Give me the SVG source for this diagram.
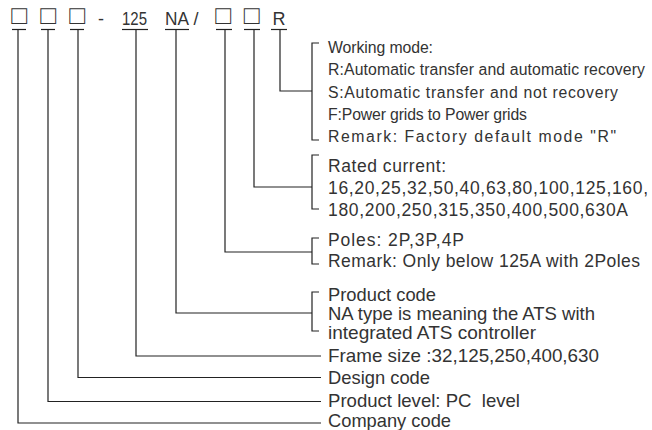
<svg xmlns="http://www.w3.org/2000/svg" width="652" height="430" viewBox="0 0 652 430">
<style>
.t{font-family:"Liberation Sans",Arial,sans-serif;fill:#333}
.a{font-size:15.8px}
.b{font-size:17.5px}
.c{font-size:18.5px}
.code{font-family:"Liberation Sans",Arial,sans-serif;font-size:18px;fill:#333}
.box{font-family:"Liberation Sans","DejaVu Sans",sans-serif;font-size:26px;fill:#333}
.ln{fill:none;stroke:#222;stroke-width:1.2}
</style>
<rect width="652" height="430" fill="#fff"/>
<g id="model-code">
  <g id="tok-company"><text class="box" x="19" y="24" text-anchor="middle">□</text><path class="ln" d="M12 29.5H26"/></g>
  <g id="tok-level"><text class="box" x="48" y="24" text-anchor="middle">□</text><path class="ln" d="M41 29.5H55"/></g>
  <g id="tok-design"><text class="box" x="77" y="24" text-anchor="middle">□</text><path class="ln" d="M70 29.5H84"/></g>
  <text class="code" x="101" y="25" text-anchor="middle" font-size="20">-</text>
  <g id="tok-frame"><text class="code" x="122" y="25" textLength="25" lengthAdjust="spacingAndGlyphs">125</text><path class="ln" d="M122 29.5H148"/></g>
  <g id="tok-product"><text class="code" x="165" y="25" textLength="24" lengthAdjust="spacingAndGlyphs">NA</text><path class="ln" d="M165 29.5H189"/></g>
  <text class="code" x="196" y="25" text-anchor="middle">/</text>
  <g id="tok-poles"><text class="box" x="223" y="24" text-anchor="middle">□</text><path class="ln" d="M216 29.5H232"/></g>
  <g id="tok-current"><text class="box" x="251.5" y="24" text-anchor="middle">□</text><path class="ln" d="M244 29.5H260"/></g>
  <g id="tok-mode"><text class="code" x="272.5" y="25">R</text><path class="ln" d="M271 29.5H287"/></g>
</g>
<g id="connectors">
  <path class="ln" d="M280 29.5V91H312"/>
  <path class="ln" d="M254 29.5V187H312"/>
  <path class="ln" d="M225 29.5V252H312"/>
  <path class="ln" d="M176 29.5V313H312"/>
  <path class="ln" d="M136 29.5V356H321"/>
  <path class="ln" d="M78 29.5V377.5H321"/>
  <path class="ln" d="M48 29.5V401.5H321"/>
  <path class="ln" d="M18 29.5V423H321"/>
</g>
<g id="working-mode">
  <path class="ln" d="M319 43H312V140H319"/>
  <text class="t a" x="328" y="52.5" textLength="105">Working mode:</text>
  <text class="t a" x="328" y="75" textLength="317">R:Automatic transfer and automatic recovery</text>
  <text class="t a" x="328" y="97.5" textLength="290">S:Automatic transfer and not recovery</text>
  <text class="t a" x="328" y="120" textLength="199">F:Power grids to Power grids</text>
  <text class="t a" x="328" y="142" textLength="288">Remark: Factory default mode "R"</text>
</g>
<g id="rated-current">
  <path class="ln" d="M319 155H312V209H319"/>
  <text class="t b" x="328" y="172" textLength="118">Rated current:</text>
  <text class="t b" x="328" y="194" textLength="320">16,20,25,32,50,40,63,80,100,125,160,</text>
  <text class="t b" x="328" y="216" textLength="300">180,200,250,315,350,400,500,630A</text>
</g>
<g id="poles">
  <path class="ln" d="M319 238H312V264H319"/>
  <text class="t b" x="328" y="246" textLength="136">Poles: 2P,3P,4P</text>
  <text class="t b" x="328" y="267" textLength="312">Remark: Only below 125A with 2Poles</text>
</g>
<g id="product-code">
  <path class="ln" d="M319 292H312V331H319"/>
  <text class="t c" x="328" y="301" textLength="108" lengthAdjust="spacingAndGlyphs">Product code</text>
  <text class="t c" x="328" y="320" textLength="267" lengthAdjust="spacingAndGlyphs">NA type is meaning the ATS with</text>
  <text class="t c" x="328" y="339" textLength="208" lengthAdjust="spacingAndGlyphs">integrated ATS controller</text>
</g>
<g id="frame-size"><text class="t c" x="328" y="362" textLength="271" lengthAdjust="spacingAndGlyphs">Frame size :32,125,250,400,630</text></g>
<g id="design-code"><text class="t c" x="328" y="383.5" textLength="102" lengthAdjust="spacingAndGlyphs">Design code</text></g>
<g id="product-level"><text class="t c" x="328" y="407" textLength="192" lengthAdjust="spacingAndGlyphs" xml:space="preserve">Product level: PC  level</text></g>
<g id="company-code"><text class="t c" x="328" y="427" textLength="123" lengthAdjust="spacingAndGlyphs">Company code</text></g>
</svg>
